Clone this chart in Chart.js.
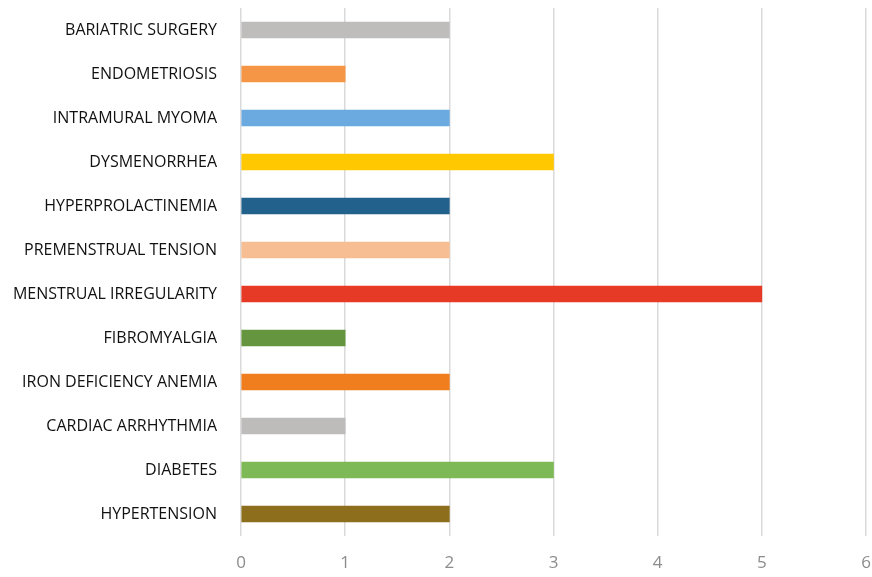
<!DOCTYPE html>
<html><head><meta charset="utf-8">
<script src="https://cdn.jsdelivr.net/npm/chart.js@4"></script>
<style>html,body{margin:0;padding:0;background:#fff}canvas{display:block}</style>
</head><body>
<canvas id="c" width="872" height="577"></canvas>
<script>
const categories = ["BARIATRIC SURGERY","ENDOMETRIOSIS","INTRAMURAL MYOMA","DYSMENORRHEA","HYPERPROLACTINEMIA","PREMENSTRUAL TENSION","MENSTRUAL IRREGULARITY","FIBROMYALGIA","IRON DEFICIENCY ANEMIA","CARDIAC ARRHYTHMIA","DIABETES","HYPERTENSION"];
const values = [2,1,2,3,2,2,5,1,2,1,3,2];
const barColors = ["#BFBCBC","#F59646","#6AAAE0","#FFC800","#22618C","#F6BE92","#E63A26","#65963F","#F07E1E","#BEBBBB","#7DB956","#8C6E1C"];
const xTicks = [0,1,2,3,4,5,6];

new Chart(document.getElementById('c'), {
  type: 'bar',
  data: { labels: categories, datasets: [{ data: values, backgroundColor: barColors, barThickness: 16 }] },
  options: {
    indexAxis: 'y',
    responsive: false,
    animation: false,
    layout: { padding: { left: 0, right: 6, top: 8, bottom: 0 } },
    plugins: { legend: { display: false }, tooltip: { enabled: false } },
    scales: {
      x: {
        min: 0, max: 6,
        afterBuildTicks: s => { s.ticks = xTicks.map(v => ({ value: v })); },
        grid: { color: '#DADADA', lineWidth: 1.5, drawTicks: false },
        border: { display: false },
        ticks: { color: '#8C8C8C', padding: 17, font: { family: 'Open Sans', size: 17 } },
        afterFit: s => { s.height = 41; s.paddingLeft = 0; s.paddingRight = 0; }
      },
      y: {
        grid: { display: false, drawTicks: false },
        border: { display: false },
        ticks: { color: '#111111', padding: 24, font: { family: 'Open Sans', size: 16 } },
        afterFit: s => { s.width = 241; s.paddingTop = 0; s.paddingBottom = 0; }
      }
    }
  }
});
</script>
</body></html>
